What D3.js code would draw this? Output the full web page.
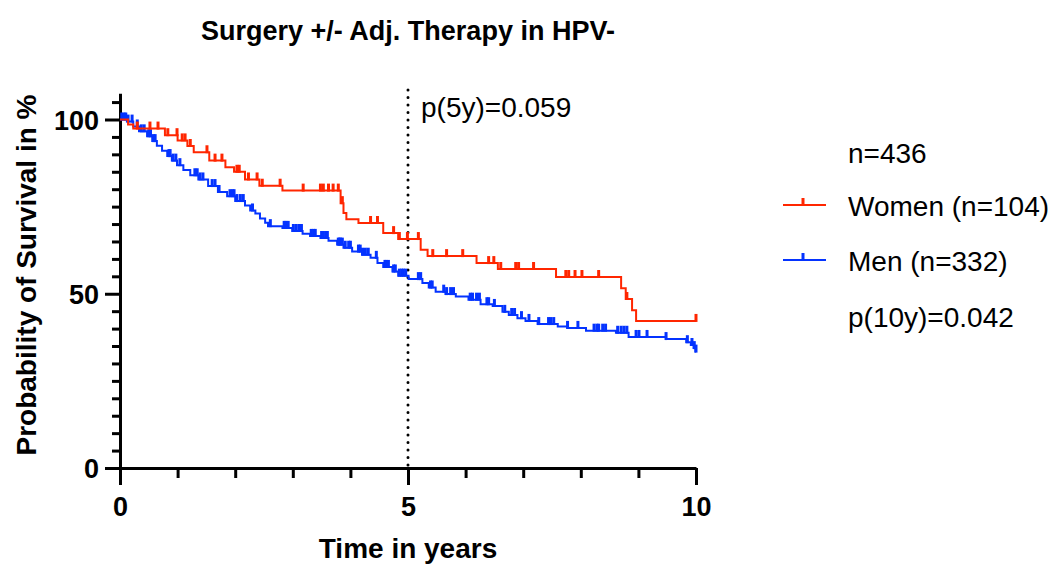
<!DOCTYPE html>
<html>
<head>
<meta charset="utf-8">
<script src="https://cdn.jsdelivr.net/npm/d3@7"></script>
<style>
  html, body { margin: 0; padding: 0; background: #fff; }
  svg { display: block; }
  text { font-family: "Liberation Sans", Arial, Helvetica, sans-serif; fill: #000; }
</style>
</head>
<body>
<svg id="chart" width="1053" height="566"></svg>
<script>
// ---------- DATA ----------
const title = "Surgery +/- Adj. Therapy in HPV-";
const xLabel = "Time in years";
const yLabel = "Probability of Survival in %";
const xMajorTicks = [0, 5, 10];
const xMinorTicks = [1, 2, 3, 4, 6, 7, 8, 9];
const yMajorTicks = [0, 50, 100];
const yMinorTicks = [5, 10, 15, 20, 25, 30, 35, 40, 45, 55, 60, 65, 70, 75, 80, 85, 90, 95, 105];
const seriesNames = ["Women (n=104)", "Men (n=332)"];
const seriesColors = ["#FF2600", "#0433FF"];
const legendHeader = "n=436";
const legendFooter = "p(10y)=0.042";
const markerLabel = "p(5y)=0.059";
const markerTime = 5;
const endTime = 10;

// Women: step times (years) and survival (%)
const womenTimes = [0, 0.14, 0.23, 0.78, 1.0, 1.17, 1.28, 1.55, 1.83, 1.98, 2.17, 2.42, 2.82, 3.83, 3.88, 3.93, 4.14, 4.57, 4.83, 5.22, 5.34, 6.19, 6.56, 7.57, 8.7, 8.78, 8.89, 8.96];
const womenSurv  = [100, 98.6, 97.4, 95.5, 94.0, 92.4, 90.6, 88.2, 86.3, 85.0, 82.8, 81.0, 79.6, 76.0, 73.2, 71.4, 70.3, 67.4, 65.7, 62.6, 60.8, 58.8, 57.1, 54.8, 51.6, 48.5, 45.3, 42.2];
const womenCensor = [0.30, 0.52, 0.66, 0.83, 0.99, 1.08, 1.13, 1.22, 1.51, 1.65, 1.77, 2.03, 2.07, 2.23, 2.38, 2.47, 2.78, 3.18, 3.48, 3.53, 3.62, 3.70, 3.79, 3.86, 4.35, 4.47, 4.75, 4.85, 4.99, 5.18, 5.43, 5.67, 5.95, 6.40, 6.49, 6.61, 6.87, 6.92, 7.18, 7.74, 7.79, 7.90, 8.02, 8.31, 8.80, 10.0];

// Men: step times (years) and survival (%)
const menTimes = [0, 0.12, 0.23, 0.33, 0.47, 0.56, 0.64, 0.73, 0.82, 0.90, 0.99, 1.10, 1.22, 1.36, 1.53, 1.70, 1.86, 2.0, 2.17, 2.26, 2.35, 2.43, 2.52, 2.57, 2.82, 2.99, 3.17, 3.30, 3.48, 3.62, 3.77, 3.88, 4.03, 4.21, 4.35, 4.47, 4.57, 4.73, 4.83, 5.01, 5.25, 5.36, 5.48, 5.65, 5.83, 6.05, 6.26, 6.47, 6.64, 6.75, 6.90, 7.04, 7.25, 7.60, 7.77, 8.09, 8.61, 8.83, 9.48, 9.83, 9.91, 9.96, 9.99];
const menSurv  = [100, 99.4, 98.0, 96.6, 95.2, 93.8, 92.5, 91.0, 89.5, 88.2, 86.9, 85.5, 84.0, 82.8, 80.9, 79.2, 78.0, 76.6, 75.3, 73.9, 73.0, 71.6, 70.4, 69.4, 68.9, 68.0, 67.2, 66.6, 66.0, 65.2, 64.1, 63.2, 62.1, 61.2, 60.3, 58.8, 57.7, 56.4, 55.2, 54.2, 53.1, 51.8, 50.6, 49.9, 49.2, 48.3, 47.0, 46.5, 44.8, 43.9, 43.0, 42.2, 41.3, 40.6, 40.2, 39.4, 38.8, 37.6, 37.0, 36.1, 35.3, 34.4, 33.4];
const menCensor = [0.03, 0.07, 0.10, 0.14, 0.21, 0.30, 0.37, 0.42, 0.50, 0.53, 0.58, 0.61, 0.85, 0.87, 0.92, 0.97, 1.04, 1.30, 1.34, 1.39, 1.44, 1.60, 1.65, 1.72, 1.91, 1.95, 1.98, 2.03, 2.09, 2.14, 2.30, 2.61, 2.85, 2.88, 2.92, 3.01, 3.06, 3.11, 3.15, 3.32, 3.36, 3.39, 3.50, 3.53, 3.57, 3.60, 3.79, 3.81, 3.83, 3.86, 3.91, 3.97, 4.00, 4.14, 4.17, 4.21, 4.26, 4.31, 4.45, 4.60, 4.62, 4.66, 4.75, 4.78, 4.85, 4.89, 4.92, 4.96, 5.18, 5.22, 5.39, 5.42, 5.62, 5.67, 5.74, 5.79, 6.08, 6.12, 6.19, 6.24, 6.37, 6.40, 6.50, 6.68, 6.80, 6.85, 6.97, 7.10, 7.27, 7.44, 7.48, 7.53, 7.77, 7.95, 8.23, 8.28, 8.31, 8.38, 8.43, 8.64, 8.70, 8.75, 8.80, 8.96, 9.01, 9.15, 9.48, 9.85, 9.93, 9.97, 10.0];

// ---------- LAYOUT ----------
const svg = d3.select("#chart");
const x = d3.scaleLinear().domain([0, 10]).range([120, 696]);
const y = d3.scaleLinear().domain([0, 107.5]).range([468, 468 - 107.5 * 3.485]);

const font = '"Liberation Sans", Arial, Helvetica, sans-serif';

// Title
svg.append("text").attr("x", 408).attr("y", 40).attr("text-anchor", "middle")
  .style("font-size", "27px").style("font-weight", "bold").text(title);

// Y axis
const yAxisG = svg.append("g").attr("transform", `translate(${x(0)},0)`);
yAxisG.call(d3.axisLeft(y).tickValues(yMinorTicks).tickSize(8).tickFormat(""));
yAxisG.call(g => g.selectAll(".tick line").attr("stroke-width", 3));
yAxisG.select(".domain").remove();
const yMajG = svg.append("g").attr("transform", `translate(${x(0)},0)`);
yMajG.call(d3.axisLeft(y).tickValues(yMajorTicks).tickSize(15).tickPadding(6).tickSizeOuter(0));
yMajG.select(".domain").attr("stroke-width", 3);
yMajG.selectAll(".tick line").attr("stroke-width", 3);
yMajG.selectAll(".tick text").style("font-size", "27px").style("font-weight", "bold").style("font-family", font).attr("dy", "0.36em");

// X axis
const xAxisG = svg.append("g").attr("transform", `translate(0,${y(0)})`);
xAxisG.call(d3.axisBottom(x).tickValues(xMinorTicks).tickSize(10).tickFormat(""));
xAxisG.selectAll(".tick line").attr("stroke-width", 3);
xAxisG.select(".domain").remove();
const xMajG = svg.append("g").attr("transform", `translate(0,${y(0)})`);
xMajG.call(d3.axisBottom(x).tickValues(xMajorTicks).tickSize(17).tickPadding(12).tickSizeOuter(0));
xMajG.select(".domain").attr("stroke-width", 3);
xMajG.selectAll(".tick line").attr("stroke-width", 3);
xMajG.selectAll(".tick text").style("font-size", "27px").style("font-weight", "bold").style("font-family", font);

// Axis labels
svg.append("text").attr("x", 408).attr("y", 558).attr("text-anchor", "middle")
  .style("font-size", "28px").style("font-weight", "bold").text(xLabel);
svg.append("text").attr("transform", "translate(36,275) rotate(-90)").attr("text-anchor", "middle")
  .style("font-size", "28px").style("font-weight", "bold").text(yLabel);

// Dotted marker line at 5 years
svg.append("line").attr("x1", x(markerTime)).attr("x2", x(markerTime))
  .attr("y1", 90).attr("y2", y(0))
  .attr("stroke", "#000").attr("stroke-width", 3).attr("stroke-linecap", "round")
  .attr("stroke-dasharray", "0 7.5");
svg.append("text").attr("x", x(markerTime) + 13).attr("y", 117)
  .style("font-size", "28px").text(markerLabel);

// Curves
const series = [
  { times: womenTimes, surv: womenSurv, censor: womenCensor, color: seriesColors[0] },
  { times: menTimes, surv: menSurv, censor: menCensor, color: seriesColors[1] }
];
const line = d3.line().x(d => x(d[0])).y(d => y(d[1])).curve(d3.curveStepAfter);
const bis = d3.bisector(d => d).right;

[series[1], series[0]].forEach(s => {
  const pts = s.times.map((t, i) => [t, s.surv[i]]);
  pts.push([endTime, s.surv[s.surv.length - 1]]);
  svg.append("path").datum(pts).attr("d", line)
    .attr("fill", "none").attr("stroke", s.color).attr("stroke-width", 2);
  const valAt = t => s.surv[Math.max(0, bis(s.times, t) - 1)];
  svg.append("g").selectAll("line").data(s.censor).join("line")
    .attr("x1", d => x(d)).attr("x2", d => x(d))
    .attr("y1", d => y(valAt(d)) + 1).attr("y2", d => y(valAt(d)) - 7)
    .attr("stroke", s.color).attr("stroke-width", 3);
});

// Legend
svg.append("text").attr("x", 848).attr("y", 163).style("font-size", "28px").text(legendHeader);
const legY = [205, 260];
seriesNames.forEach((name, i) => {
  svg.append("line").attr("x1", 783).attr("x2", 826).attr("y1", legY[i]).attr("y2", legY[i])
    .attr("stroke", seriesColors[i]).attr("stroke-width", 2);
  svg.append("line").attr("x1", 803).attr("x2", 803).attr("y1", legY[i] + 1).attr("y2", legY[i] - 7)
    .attr("stroke", seriesColors[i]).attr("stroke-width", 3);
  svg.append("text").attr("x", 848).attr("y", legY[i] + 11).style("font-size", "28px").text(name);
});
svg.append("text").attr("x", 848).attr("y", 327).style("font-size", "28px").text(legendFooter);
</script>
</body>
</html>
